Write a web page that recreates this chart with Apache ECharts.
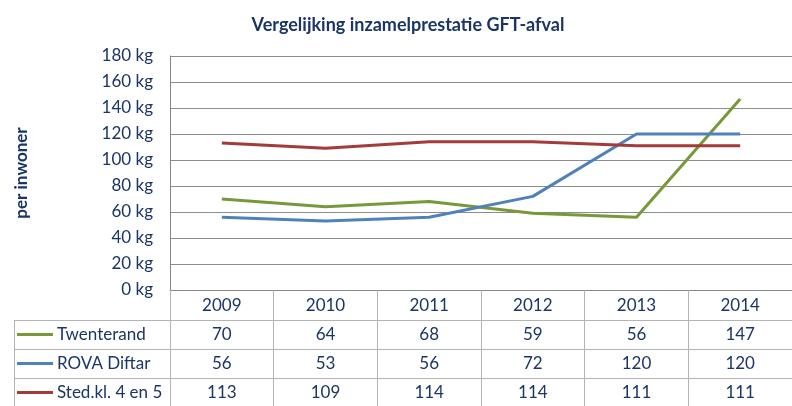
<!DOCTYPE html>
<html>
<head>
<meta charset="utf-8">
<title>Vergelijking inzamelprestatie GFT-afval</title>
<script src="https://cdn.jsdelivr.net/npm/echarts@6/dist/echarts.min.js"></script>
<style>
  html, body { margin: 0; padding: 0; background: #fff; }
  #chart { width: 792px; height: 406px; }
</style>
</head>
<body>
<div id="chart"></div>
<script>
// data
var years = ['2009', '2010', '2011', '2012', '2013', '2014'];
var seriesNames = ['Twenterand', 'ROVA Diftar', 'Sted.kl. 4 en 5'];
var twenterand = [70, 64, 68, 59, 56, 147];
var rovaDiftar = [56, 53, 56, 72, 120, 120];
var stedkl = [113, 109, 114, 114, 111, 111];
var yTicks = { min: 0, max: 180, step: 20 };

var colors = ['#77993a', '#4f81bd', '#a33b38'];
var allValues = [twenterand, rovaDiftar, stedkl];
var textColor = '#1b3566';
var font = 'Lato, "Open Sans", sans-serif';

var chart = echarts.init(document.getElementById('chart'));

var series = seriesNames.map(function (name, i) {
  return {
    name: name,
    type: 'line',
    data: allValues[i],
    symbol: 'none',
    lineStyle: { color: colors[i], width: 3 },
    itemStyle: { color: colors[i] },
    z: 3 + i
  };
});

chart.setOption({
  backgroundColor: '#fff',
  animation: false,
  textStyle: { fontFamily: font },
  title: {
    text: 'Vergelijking inzamelprestatie GFT-afval',
    left: 403,
    top: 11,
    textAlign: 'center',
    textStyle: { color: textColor, fontSize: 18, fontWeight: 'bold', fontFamily: font }
  },
  grid: { left: 170, top: 56, right: -13, bottom: 116, containLabel: false },
  xAxis: {
    type: 'category',
    data: years,
    boundaryGap: true,
    axisLine: { show: true, lineStyle: { color: '#868686', width: 1 } },
    // ticks reach down to form the table's column lines
    axisTick: { show: true, length: 116, lineStyle: { color: '#b4b4b4', width: 1 } },
    axisLabel: { color: textColor, fontSize: 17, margin: 7, fontFamily: font },
    splitLine: { show: false }
  },
  yAxis: {
    type: 'value',
    min: yTicks.min,
    max: yTicks.max,
    interval: yTicks.step,
    name: 'per inwoner',
    nameLocation: 'middle',
    nameGap: 140,
    nameRotate: 90,
    nameTextStyle: { color: textColor, fontSize: 17, fontWeight: 'bold', fontFamily: font },
    axisLine: { show: true, lineStyle: { color: '#868686', width: 1 } },
    axisTick: { show: false },
    axisLabel: { color: textColor, fontSize: 17, margin: 17, formatter: '{value} kg', fontFamily: font },
    splitLine: { show: true, lineStyle: { color: '#8c8c8c', width: 1 } }
  },
  series: series
});

// data table below the plot
function drawTable() {
  var centers = years.map(function (y) {
    return chart.convertToPixel({ xAxisIndex: 0 }, y);
  });
  var rowTop = 320, rowH = 29;
  var elements = [];
  var lineStyle = { stroke: '#b4b4b4', lineWidth: 1 };

  for (var r = 0; r < seriesNames.length; r++) {
    var yTop = rowTop + r * rowH;
    var yMid = yTop + rowH / 2;
    elements.push({ type: 'line', shape: { x1: 14, y1: yTop + 0.5, x2: 792, y2: yTop + 0.5 }, style: lineStyle, silent: true });
    // legend key
    elements.push({ type: 'line', shape: { x1: 17, y1: yMid, x2: 53, y2: yMid }, style: { stroke: colors[r], lineWidth: 3 }, silent: true });
    elements.push({
      type: 'text', x: 57, y: yMid,
      style: { text: seriesNames[r], fill: textColor, font: '17px ' + font, textAlign: 'left', textVerticalAlign: 'middle' }
    });
    for (var i = 0; i < years.length; i++) {
      elements.push({
        type: 'text', x: centers[i], y: yMid,
        style: { text: String(allValues[r][i]), fill: textColor, font: '17px ' + font, textAlign: 'center', textVerticalAlign: 'middle' }
      });
    }
  }
  elements.push({ type: 'line', shape: { x1: 14.5, y1: rowTop, x2: 14.5, y2: 406 }, style: lineStyle, silent: true });

  chart.setOption({ graphic: elements });
}
drawTable();
</script>
</body>
</html>
